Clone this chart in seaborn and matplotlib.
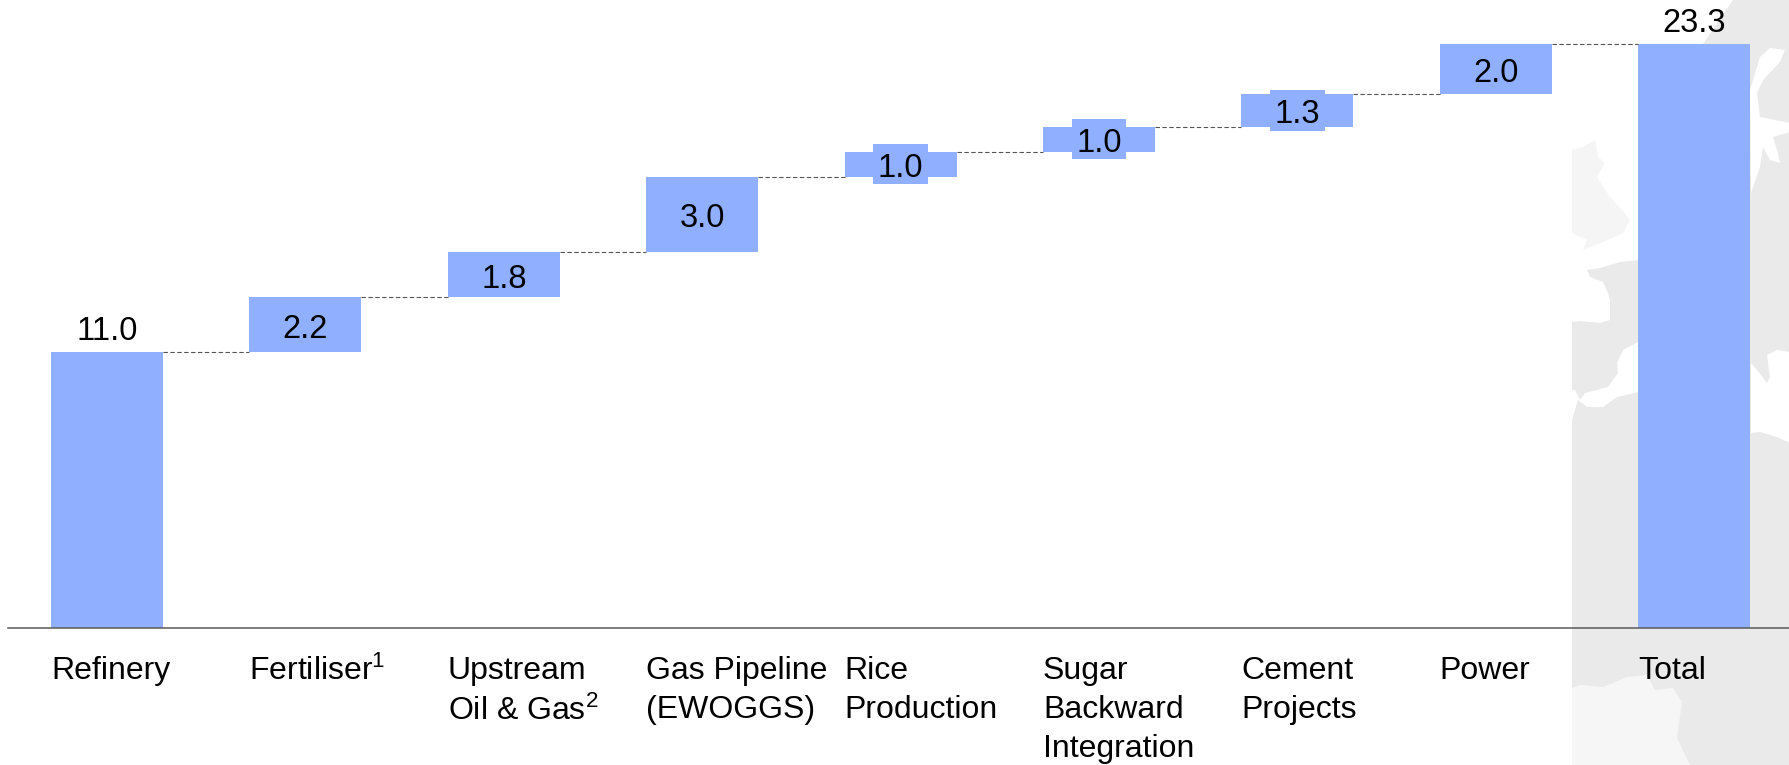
import numpy as np
import matplotlib
matplotlib.use("Agg")
import matplotlib.pyplot as plt
import seaborn as sns

# =====================================
# Data
# =====================================

categories = ["Refinery", "Fertiliser", "Upstream", "Gas Pipeline", "Rice",
              "Sugar", "Cement", "Power", "Total"]
tick_labels = ["Refinery", "Fertiliser$^{1}$", "Upstream\nOil & Gas$^{2}$",
               "Gas Pipeline\n(EWOGGS)", "Rice\nProduction",
               "Sugar\nBackward\nIntegration", "Cement\nProjects", "Power", "Total"]
values = [11.0, 2.2, 1.8, 3.0, 1.0, 1.0, 1.3, 2.0, 23.3]
bottoms = [0.0, 11.0, 13.2, 15.0, 18.0, 19.0, 20.0, 21.3, 0.0]
value_labels = ["11.0", "2.2", "1.8", "3.0", "1.0", "1.0", "1.3", "2.0", "23.3"]

BAR_COLOR = "#91AFFF"
BAR_WIDTH = 0.565

# background map, in picture pixels
map_gray = "#EAEAEA"
map_shapes = [
    ("#FFFFFF", [(1572, 0), (1733, 0), (1703, 44), (1680, 100), (1638, 260), (1620, 262),
                 (1600, 268), (1587, 270), (1590, 277), (1603, 282), (1608, 293), (1610, 300),
                 (1610, 320), (1600, 323), (1580, 321), (1572, 322)]),
    ("#F5F5F5", [(1572, 150), (1583, 147), (1595, 140), (1598, 157), (1605, 163), (1597, 177),
                 (1610, 197), (1622, 210), (1630, 220), (1623, 233), (1603, 242), (1583, 250),
                 (1587, 240), (1572, 233)]),
    ("#FFFFFF", [(1750, 90), (1760, 57), (1770, 48), (1785, 50), (1780, 62), (1763, 80),
                 (1757, 93), (1760, 117), (1790, 123), (1790, 132), (1773, 137), (1777, 150),
                 (1780, 163), (1770, 160), (1763, 147), (1760, 167), (1751, 193)]),
    ("#FFFFFF", [(1638, 342), (1623, 350), (1617, 363), (1618, 373), (1608, 387), (1585, 393),
                 (1580, 400), (1575, 390), (1572, 390), (1572, 420), (1578, 400), (1587, 407),
                 (1603, 407), (1617, 397), (1638, 392)]),
    ("#FFFFFF", [(1751, 363), (1757, 370), (1767, 383), (1770, 377), (1767, 355), (1777, 350),
                 (1790, 352), (1790, 443), (1777, 437), (1760, 432), (1751, 433)]),
    ("#F6F6F6", [(1572, 688), (1580, 685), (1603, 687), (1627, 677), (1647, 675), (1655, 690),
                 (1673, 688), (1682, 702), (1677, 738), (1690, 765), (1572, 765)]),
]

# =====================================
# Figure
# =====================================

sns.set_style("white")
plt.rcParams["font.family"] = ["Liberation Sans", "DejaVu Sans"]
plt.rcParams["mathtext.fontset"] = "custom"
plt.rcParams["mathtext.rm"] = "Liberation Sans"
plt.rcParams["mathtext.default"] = "regular"

W, H = 1790, 765
fig = plt.figure(figsize=(W / 100, H / 100), dpi=100)

bg = fig.add_axes([0, 0, 1, 1])
bg.set_xlim(0, W)
bg.set_ylim(H, 0)
bg.axis("off")
bg.fill([1572, W, W, 1572], [0, 0, H, H], color=map_gray, lw=0)
for color, pts in map_shapes:
    xs, ys = zip(*pts)
    bg.fill(xs, ys, color=color, lw=0)

ax = fig.add_axes([8 / W, (H - 628) / H, (W - 8) / W, 628 / H])
ax.patch.set_alpha(0)

sns.barplot(x=categories, y=values, bottom=bottoms, width=BAR_WIDTH,
            color=BAR_COLOR, saturation=1, edgecolor="none", linewidth=0, ax=ax)

ax.set_xlim(-0.499, 8.483)
ax.set_ylim(0, 25.06)

x = np.arange(len(categories))
tops = np.array(bottoms) + np.array(values)

# dashed connectors between bars
for i in range(len(categories) - 1):
    ax.plot([x[i] + BAR_WIDTH / 2, x[i + 1] - BAR_WIDTH / 2], [tops[i], tops[i]],
            color="#555555", lw=0.8, linestyle=(0, (4, 2.2)))

# value labels
for i, label in enumerate(value_labels):
    if bottoms[i] == 0:
        ax.annotate(label, (x[i], tops[i]), xytext=(0, 8.6), textcoords="offset points",
                    ha="center", va="baseline", fontsize=23.5, color="black")
    else:
        mid = bottoms[i] + values[i] / 2
        # small bars get a label box that sticks out past the bar
        if values[i] < 1.6:
            ax.bar(x[i], 1.6, width=0.277, bottom=mid - 0.8, color=BAR_COLOR, lw=0)
        ax.annotate(label, (x[i], mid), xytext=(0, -0.7), textcoords="offset points",
                    ha="center", va="center_baseline", fontsize=23.5, color="black")

# axis
ax.set_yticks([])
ax.set_xticks(x - BAR_WIDTH / 2)
ax.set_xticklabels(tick_labels, ha="left", fontsize=23, color="black", linespacing=1.4)
ax.tick_params(axis="x", length=0, pad=20)
ax.set_xlabel("")
for side in ["left", "right", "top"]:
    ax.spines[side].set_visible(False)
ax.spines["bottom"].set_color("#5A5A5A")
ax.spines["bottom"].set_linewidth(1.1)
ax.spines["bottom"].set_zorder(5)

fig.savefig("out.png", dpi=100)
